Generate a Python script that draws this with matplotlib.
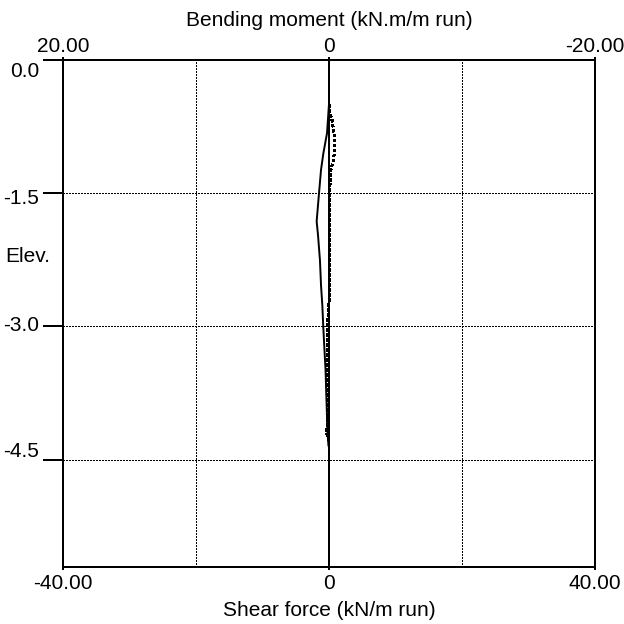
import matplotlib
matplotlib.use("Agg")
import matplotlib.pyplot as plt
import matplotlib.transforms as mtransforms

plt.rcParams['font.family'] = ['Liberation Sans', 'DejaVu Sans']

# elevations (m) and values
moment_elev = [-0.50, -0.83, -0.91, -1.06, -1.24, -1.50, -1.82, -1.97, -2.26, -2.54,
               -2.77, -3.01, -3.24, -3.49, -3.83, -4.20, -4.34]
moment = [0.0, 0.15, 0.25, 0.43, 0.60, 0.75, 0.93, 0.83, 0.68, 0.60,
          0.50, 0.43, 0.35, 0.26, 0.19, 0.11, 0.04]

shear_elev = [-0.51, -0.60, -0.68, -0.82, -0.95, -1.04, -1.15, -1.24, -1.41, -1.69,
              -2.26, -2.74, -3.01, -3.27, -3.61, -4.09, -4.20, -4.28]
shear = [0.0, 0.15, 0.45, 0.75, 0.90, 0.83, 0.60, 0.30, 0.15, 0.05,
         0.03, 0.0, -0.23, -0.30, -0.20, -0.20, -0.38, 0.0]

elev_ticks = [0.0, -1.5, -3.0, -4.5]
elev_labels = ['0.0', '-1.5', '-3.0', '-4.5']
shear_ticks = [-40, 0, 40]
shear_labels = ['-40.00', '0', '40.00']
moment_ticks = [20, 0, -20]
moment_labels = ['20.00', '0', '-20.00']
shear_grid = [-20, 20]

W = 624.0
fig = plt.figure(figsize=(6.24, 6.24), dpi=100)
ax = fig.add_axes([63.3 / W, 1 - 566.5 / W, 531.4 / W, 507.0 / W])
ax.set_xlim(-40, 40)
ax.set_ylim(-5.7, 0)

ax2 = ax.twiny()
ax2.set_xlim(20, -20)

for a in (ax, ax2):
    for s in a.spines.values():
        s.set_linewidth(1.44)
        s.set_color('black')

# dotted grid, no antialiasing so the dots stay black
for g in shear_grid:
    ax.axvline(g, color='black', lw=0.9, ls=(0, (1.1, 1.1)), antialiased=False)
for t in elev_ticks[1:]:
    ax.axhline(t, color='black', lw=0.9, ls=(0, (1.1, 1.1)), antialiased=False)
ax.axvline(0, color='black', lw=1.44)

# curves
ax2.plot(moment, moment_elev, color='black', lw=1.4)
ax.plot(shear, shear_elev, color='black', lw=1.5, ls=(0, (1, 1)), antialiased=False)

# ticks
ax.set_yticks(elev_ticks)
ax.tick_params(axis='y', direction='out', length=14.4, width=1.44, labelleft=False)
ax.set_xticks(shear_ticks, shear_labels)
ax.tick_params(axis='x', direction='out', length=2.2, width=1.44, pad=2.9, labelsize=15)
ax2.set_xticks(moment_ticks, moment_labels)
ax2.tick_params(axis='x', direction='out', length=2.2, width=1.44, pad=0.5, labelsize=15)

# elevation labels sit a bit off their ticks in the original
trans = mtransforms.blended_transform_factory(ax.transAxes, ax.transData)
for t, lab in zip(elev_ticks, elev_labels):
    ax.text(-0.0452, t * 0.95 - 0.137, lab, transform=trans, ha='right', va='center', fontsize=15)

fig.text(5 / W, 1 - 256 / W, 'Elev.', ha='left', va='center', fontsize=15)
fig.text(329 / W, 1 - 20 / W, 'Bending moment (kN.m/m run)', ha='center', va='center', fontsize=15)
fig.text(329 / W, 1 - 610 / W, 'Shear force (kN/m run)', ha='center', va='center', fontsize=15)

fig.savefig('out.png', dpi=100)
